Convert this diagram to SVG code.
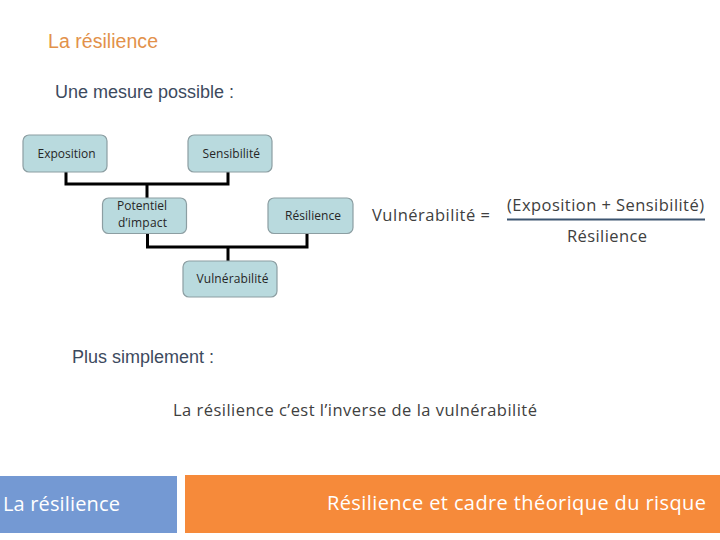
<svg xmlns="http://www.w3.org/2000/svg" width="720" height="540" viewBox="0 0 720 540">
<style>
.box{fill:#b9dade;stroke:#8c9ea2;stroke-width:1.2}
.bt{font-family:"Open Sans","Noto Sans",sans-serif;font-size:12px;fill:#262626}
.conn{fill:none;stroke:#000;stroke-width:3;stroke-linejoin:miter}
.ar{font-family:"Liberation Sans",Arial,sans-serif}
.cal{font-family:"Open Sans","Noto Sans",sans-serif}
</style>
<rect width="720" height="540" fill="#fff"/>
<text class="ar" x="48" y="48" font-size="19.5" fill="#e2914a" textLength="110">La résilience</text>
<text class="ar" x="55" y="98" font-size="18" fill="#3d4a5e" textLength="179">Une mesure possible :</text>
<g id="connectors">
<polyline class="conn" points="66,171 66,184 228,184 228,171"/>
<line class="conn" x1="147" y1="184" x2="147" y2="198"/>
<polyline class="conn" points="147.5,233 147.5,247 307,247 307,233"/>
<line class="conn" x1="228" y1="247" x2="228" y2="261"/>
</g>
<g id="exposition"><rect class="box" x="23" y="135" width="84" height="37" rx="6"/><text class="bt" x="37.5" y="157.5" textLength="58">Exposition</text></g>
<g id="sensibilite"><rect class="box" x="188" y="135" width="84" height="37" rx="6"/><text class="bt" x="202.5" y="157.5" textLength="57.5">Sensibilité</text></g>
<g id="potentiel"><rect class="box" x="102.5" y="198" width="84" height="35.5" rx="6"/><text class="bt" x="117" y="209.5" textLength="50">Potentiel</text><text class="bt" x="118" y="227" textLength="49">d’impact</text></g>
<g id="resilience"><rect class="box" x="268" y="198" width="85" height="35.5" rx="6"/><text class="bt" x="285" y="219.5" textLength="56">Résilience</text></g>
<g id="vulnerabilite"><rect class="box" x="183" y="261" width="94" height="36" rx="6"/><text class="bt" x="196.5" y="282.5" textLength="72">Vulnérabilité</text></g>
<g id="formula">
<text class="cal" x="372" y="221" font-size="16.5" fill="#404040" textLength="118">Vulnérabilité =</text>
<text class="cal" x="507" y="211" font-size="16.5" fill="#404040" textLength="197">(Exposition + Sensibilité)</text>
<line x1="507" y1="219.5" x2="705" y2="219.5" stroke="#3d5570" stroke-width="2"/>
<text class="cal" x="567" y="242" font-size="16.5" fill="#404040" textLength="80">Résilience</text>
</g>
<text class="ar" x="72" y="363" font-size="18" fill="#3d4a5e" textLength="142">Plus simplement :</text>
<text class="cal" x="173" y="416" font-size="16.5" fill="#404040" textLength="364">La résilience c’est l’inverse de la vulnérabilité</text>
<g id="footer">
<rect x="0" y="476" width="177" height="57" fill="#7499d3"/>
<rect x="185" y="475" width="535" height="58" fill="#f68a3a"/>
<text class="cal" x="3" y="511" font-size="20" fill="#fff" textLength="117">La résilience</text>
<text class="cal" x="327" y="510" font-size="20" fill="#fff" textLength="379">Résilience et cadre théorique du risque</text>
</g>
</svg>
